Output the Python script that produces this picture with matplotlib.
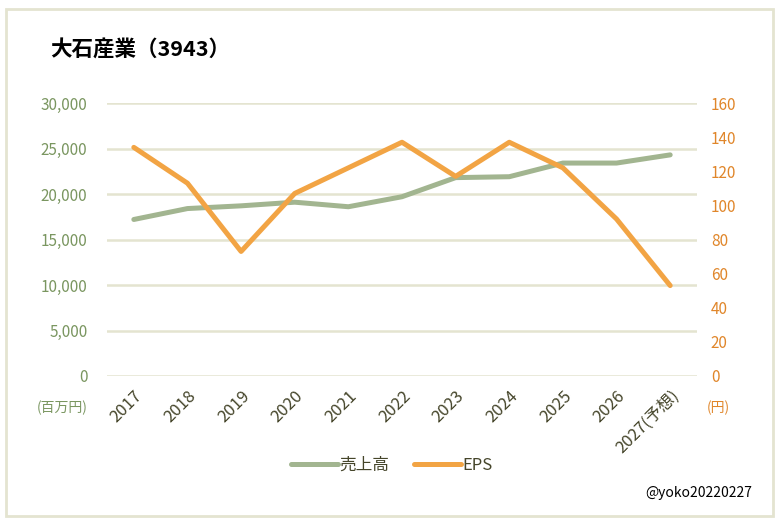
import matplotlib.pyplot as plt
from matplotlib.patches import Rectangle
from matplotlib.ticker import FuncFormatter

plt.rcParams['font.family'] = ['Noto Sans CJK JP', 'DejaVu Sans']

# データ
years = ['2017', '2018', '2019', '2020', '2021', '2022', '2023', '2024', '2025', '2026', '2027(予想)']
sales = [17200, 18400, 18700, 19100, 18600, 19700, 21800, 21900, 23400, 23400, 24300]
eps = [134, 113, 73, 107, 122, 137, 117, 137, 122, 92, 53]

green = '#a2b590'
orange = '#f2a444'
green_txt = '#7a9660'
orange_txt = '#e0862a'
grid_c = '#e4e4d0'

fig = plt.figure(figsize=(7.81, 5.25), dpi=100)
fig.patches.append(Rectangle((6 / 781, 9 / 525), 767 / 781, 507 / 525, transform=fig.transFigure,
                             fill=False, edgecolor=grid_c, linewidth=2))

ax = fig.add_axes([107 / 781, 1 - 376 / 525, 590 / 781, 273 / 525])
ax2 = ax.twinx()

x = range(len(years))
l1, = ax.plot(x, sales, color=green, linewidth=3.6, solid_capstyle='round', label='売上高')
l2, = ax2.plot(x, eps, color=orange, linewidth=3.6, solid_capstyle='round', label='EPS')

ax.set_ylim(0, 30000)
ax.set_yticks(range(0, 30001, 5000))
ax.yaxis.set_major_formatter(FuncFormatter(lambda v, p: f'{int(v):,}'))
ax2.set_ylim(0, 160)
ax2.set_yticks(range(0, 161, 20))
ax.set_xlim(-0.5, len(years) - 0.5)

ax.grid(axis='y', color=grid_c, linewidth=1.8)
ax.set_axisbelow(True)
for a in (ax, ax2):
    for s in a.spines.values():
        s.set_visible(False)
    a.tick_params(length=0)

ax.tick_params(axis='y', colors=green_txt, labelsize=11, pad=14)
ax2.tick_params(axis='y', colors=orange_txt, labelsize=11, pad=10)
ax.set_xticks(list(x))
ax.set_xticklabels(years, rotation=45, ha='right', rotation_mode='anchor', color='#45452a', fontsize=12)
ax.tick_params(axis='x', pad=8)

fig.text(50 / 781, 1 - 50 / 525, '大石産業（3943）', fontsize=15.5, fontweight='bold', va='center')
fig.text(62 / 781, 1 - 408 / 525, '(百万円)', fontsize=10, color=green_txt, ha='center', va='center')
fig.text(718 / 781, 1 - 408 / 525, '(円)', fontsize=10, color=orange_txt, ha='center', va='center')
fig.text(752 / 781, 1 - 493 / 525, '@yoko20220227', fontsize=10, color='black', ha='right', va='center')

fig.legend(handles=[l1, l2], loc='center', bbox_to_anchor=(392 / 781, 1 - 465 / 525), ncol=2,
           frameon=False, fontsize=12, handlelength=2.8, columnspacing=1.5, handletextpad=0.1,
           labelcolor='#45452a')

fig.savefig('out.png', dpi=100)
